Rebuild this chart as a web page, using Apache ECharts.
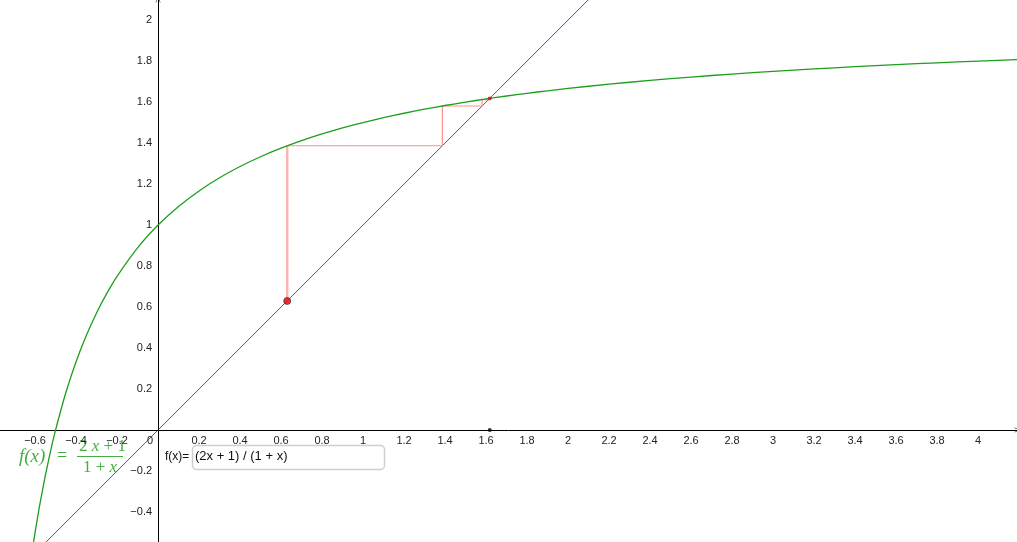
<!DOCTYPE html>
<html>
<head>
<meta charset="utf-8">
<script src="https://cdn.jsdelivr.net/npm/echarts@6/dist/echarts.min.js"></script>
<style>html,body{margin:0;padding:0;background:#fff}#c{width:1017px;height:542px}</style>
</head>
<body>
<div id="c"></div>
<script>
// f(x) = (2x + 1) / (1 + x)
var curveX = [-0.61, -0.6, -0.58, -0.55, -0.52, -0.5, -0.45, -0.4, -0.35, -0.3, -0.25, -0.2, -0.1, 0, 0.1, 0.2, 0.3, 0.4, 0.5, 0.6, 0.7, 0.8, 0.9, 1.0, 1.1, 1.2, 1.3, 1.4, 1.5, 1.6, 1.7, 1.8, 1.9, 2.0, 2.2, 2.4, 2.6, 2.8, 3.0, 3.2, 3.4, 3.6, 3.8, 4.0, 4.2];
var curveY = [-0.564, -0.5, -0.381, -0.2222, -0.0833, 0, 0.1818, 0.3333, 0.4615, 0.5714, 0.6667, 0.75, 0.8889, 1, 1.0909, 1.1667, 1.2308, 1.2857, 1.3333, 1.375, 1.4118, 1.4444, 1.4737, 1.5, 1.5238, 1.5455, 1.5652, 1.5833, 1.6, 1.6154, 1.6296, 1.6429, 1.6552, 1.6667, 1.6875, 1.7059, 1.7222, 1.7368, 1.75, 1.7619, 1.7727, 1.7826, 1.7917, 1.8, 1.8077];
// y = x
var diagX = [-0.8, 2.2];
var diagY = [-0.8, 2.2];
// cobweb: first step (thick) and later steps
var startX = [0.63, 0.63];
var startY = [0.63, 1.387];
var cobX = [0.63, 1.387, 1.387, 1.581, 1.581, 1.612];
var cobY = [1.387, 1.387, 1.581, 1.581, 1.612, 1.612];
var seedPoint = [0.63, 0.63];
var fixedPoint = [1.618, 1.618];
var axisPoint = [1.618, 0];
var xTicks = [-0.6, -0.4, -0.2, 0, 0.2, 0.4, 0.6, 0.8, 1, 1.2, 1.4, 1.6, 1.8, 2, 2.2, 2.4, 2.6, 2.8, 3, 3.2, 3.4, 3.6, 3.8, 4];
var yTicks = [-0.4, -0.2, 0.2, 0.4, 0.6, 0.8, 1, 1.2, 1.4, 1.6, 1.8, 2];
var xMin = -0.771, xMax = 4.19, yMin = -0.546, yMax = 2.098;

var W = 1017, H = 542;
function zip(a, b) { return a.map(function (v, i) { return [v, b[i]]; }); }
function fmt(v) {
  var s = String(Math.round(v * 10) / 10);
  if (v === 0) return '{o|0}';
  return s.replace('-', '\u2212');
}
var chevron = 'path://M0,10 L5,0 L10,10 L9,10 L5,2 L1,10 Z';
// axes cross at the origin, placed by offset from the grid edges
var xAxisOffset = -((0 - yMin) / (yMax - yMin)) * H;
var yAxisOffset = -((0 - xMin) / (xMax - xMin)) * W;

var chart = echarts.init(document.getElementById('c'));
var green = '#1e9e1e';
var textGreen = '#45ad45';
var lf = 'Liberation Sans, Arial, sans-serif';
var serifR = { fontFamily: 'Liberation Serif, DejaVu Serif, serif', fontSize: 17, fill: textGreen };
var serifI = { fontFamily: 'Liberation Serif, DejaVu Serif, serif', fontSize: 17, fontStyle: 'italic', fill: textGreen };
chart.setOption({
  animation: false,
  backgroundColor: '#fff',
  grid: { left: 0, right: 0, top: 0, bottom: 0, containLabel: false, outerBoundsMode: 'none' },
  xAxis: {
    type: 'value', min: xMin, max: xMax, position: 'bottom', offset: xAxisOffset,
    splitLine: { show: false },
    axisTick: { show: false },
    axisLine: { onZero: false, lineStyle: { color: '#000', width: 1 }, symbol: ['none', chevron], symbolSize: [8, 5] },
    axisLabel: {
      customValues: xTicks, formatter: fmt, margin: 5, hideOverlap: false,
      fontFamily: lf, fontSize: 11, color: '#222',
      rich: { o: { padding: [0, 16, 0, 0], fontSize: 11, color: '#222', fontFamily: lf } }
    }
  },
  yAxis: {
    type: 'value', min: yMin, max: yMax, position: 'left', offset: yAxisOffset,
    splitLine: { show: false },
    axisTick: { show: false },
    axisLine: { onZero: false, lineStyle: { color: '#000', width: 1 }, symbol: ['none', chevron], symbolSize: [8, 5] },
    axisLabel: {
      customValues: yTicks, formatter: fmt, margin: 6, hideOverlap: false,
      fontFamily: lf, fontSize: 11, color: '#222'
    }
  },
  series: [
    { type: 'line', data: zip(diagX, diagY), showSymbol: false, silent: true,
      lineStyle: { color: '#22229a', width: 0.8 }, z: 2 },
    { type: 'line', data: zip(startX, startY), showSymbol: false, silent: true,
      lineStyle: { color: '#ffb4b4', width: 2.5 }, z: 3 },
    { type: 'line', data: zip(cobX, cobY), showSymbol: false, silent: true,
      lineStyle: { color: '#ff9090', width: 1.2 }, z: 3 },
    { type: 'line', data: zip(curveX, curveY), showSymbol: false, smooth: 0.2, silent: true,
      lineStyle: { color: green, width: 1.3 }, z: 4 },
    { type: 'scatter', data: [seedPoint], symbolSize: 7, silent: true,
      itemStyle: { color: '#ee0000', borderColor: '#444', borderWidth: 1 }, z: 6 },
    { type: 'scatter', data: [fixedPoint], symbolSize: 4, silent: true,
      itemStyle: { color: '#ee0000' }, z: 6 },
    { type: 'scatter', data: [axisPoint], symbolSize: 4, silent: true,
      itemStyle: { color: '#000' }, z: 6 }
  ],
  graphic: [
    { type: 'text', left: 19, top: 447, style: { text: 'f(x)', font: 'italic 19px "Liberation Serif", "DejaVu Serif", serif', fill: textGreen } },
    { type: 'text', left: 57, top: 447, style: { text: '=', font: '18px "Liberation Serif", serif', fill: textGreen } },
    { type: 'text', left: 79, top: 438, style: { text: '{r|2 }{i|x}{r| + 1}', rich: { r: serifR, i: serifI } } },
    { type: 'rect', shape: { x: 77, y: 456, width: 46, height: 1 }, style: { fill: textGreen } },
    { type: 'text', left: 83, top: 459, style: { text: '{r|1 + }{i|x}', rich: { r: serifR, i: serifI } } },
    { type: 'text', left: 165, top: 451, style: { text: 'f(x)=', font: '12px "Liberation Sans", Arial, sans-serif', fill: '#111' } },
    { type: 'rect', shape: { x: 192.5, y: 445.5, width: 192, height: 24, r: 4 }, style: { fill: '#fff', stroke: '#cfcfcf', lineWidth: 1.5 }, z: 10 },
    { type: 'text', left: 195, top: 450, z: 11, style: { text: '(2x + 1) / (1 + x)', font: '13px "Liberation Sans", Arial, sans-serif', fill: '#111' } }
  ]
});
</script>
</body>
</html>
